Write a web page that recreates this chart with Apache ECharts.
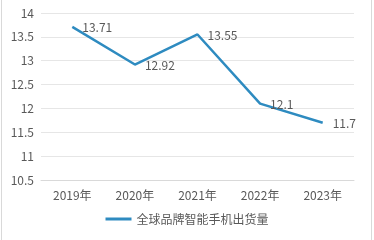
<!DOCTYPE html>
<html><head><meta charset="utf-8">
<script src="https://cdn.jsdelivr.net/npm/echarts@6/dist/echarts.min.js"></script>
<style>html,body{margin:0;padding:0;background:#fff}#c{width:374px;height:240px}</style>
</head><body><div id="c"></div>
<script>
const categories = ['2019年','2020年','2021年','2022年','2023年'];
const values = [13.71, 12.92, 13.55, 12.1, 11.7];
const seriesName = '全球品牌智能手机出货量';
const chart = echarts.init(document.getElementById('c'));
const font = '"Noto Sans CJK SC", "Microsoft YaHei", sans-serif';
chart.setOption({
  animation: false,
  textStyle: {fontFamily: font},
  graphic: [{type:'rect', shape:{x:1.5,y:-2,width:370,height:243}, style:{fill:'none', stroke:'#d9d9d9', lineWidth:1}, silent:true}],
  grid: {left: 41, right: 20, top: 13, bottom: 60},
  xAxis: {
    type: 'category', data: categories, boundaryGap: true,
    axisLine: {show: true, lineStyle: {color: '#d9d9d9'}},
    axisTick: {show: false},
    axisLabel: {color: '#595959', fontSize: 12, margin: 9, fontFamily: font}
  },
  yAxis: {
    type: 'value', min: 10.5, max: 14, interval: 0.5,
    axisLine: {show: false}, axisTick: {show: false},
    axisLabel: {color: '#595959', fontSize: 12, margin: 7, fontFamily: font},
    splitLine: {lineStyle: {color: '#e6e6e6'}}
  },
  legend: {
    bottom: 10, left: 'center', itemWidth: 26, itemHeight: 3, icon: 'rect',
    textStyle: {color: '#595959', fontSize: 12, fontFamily: font},
    data: [seriesName]
  },
  series: [{
    name: seriesName, type: 'line', data: values,
    symbol: 'circle', symbolSize: 0, showSymbol: true,
    lineStyle: {color: '#2e8bc0', width: 2.5},
    itemStyle: {color: '#2e8bc0'},
    label: {show: true, position: 'right', distance: 10, offset: [0, 1], color: '#595959', fontSize: 12, fontFamily: font}
  }]
});
</script></body></html>
